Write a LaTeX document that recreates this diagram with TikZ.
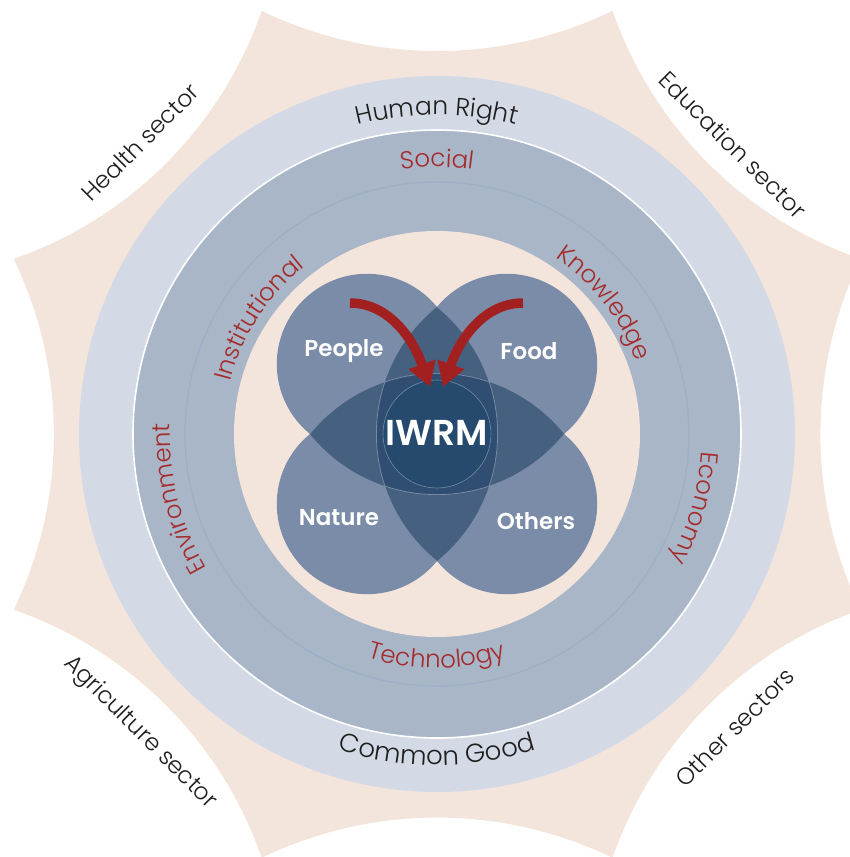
\documentclass[tikz,border=0pt]{standalone}
\usepackage{fontspec}
\setmainfont{Poppins Light}[BoldFont={Poppins SemiBold}]
\usetikzlibrary{decorations.text,arrows.meta}
\definecolor{peach}{HTML}{F3E5DC}
\definecolor{lightring}{HTML}{D3DAE6}
\definecolor{midring}{HTML}{A9B6C8}
\definecolor{faintline}{HTML}{9DAEC5}
\definecolor{leafone}{HTML}{7A8CA8}
\definecolor{leaftwo}{HTML}{46607F}
\definecolor{leaffour}{HTML}{2F4E72}
\definecolor{core}{HTML}{264A6E}
\definecolor{arrowred}{HTML}{A32020}
\definecolor{txtred}{HTML}{A52A2A}
\definecolor{txtblack}{HTML}{1E1E1E}
\newcommand\ringfont{\fontsize{25}{29}\selectfont}
\newcommand\redfont{\fontsize{24.5}{28}\selectfont}
\newcommand\bigringfont{\fontsize{26}{30}\selectfont}
\newcommand\sectfont{\fontsize{23.5}{27}\selectfont}
\tikzset{
  leafshape/.style={insert path={(0,127) arc[start angle=39.2,end angle=230.8,radius=90.27]
     arc[start angle=219.0,end angle=288.5,radius=163.5]
     arc[start angle=-18.5,end angle=51.0,radius=163.5] -- cycle}},
  hlens/.style={insert path={(-127,0) arc[start angle=219,end angle=321,radius=163.5]
     arc[start angle=39,end angle=141,radius=163.5] -- cycle}},
  sect/.style={font=\sectfont, text=txtblack, inner sep=0pt},
  leaflab/.style={font=\fontsize{23}{26}\selectfont\bfseries, text=white, inner sep=0pt},
  redarrow/.style={draw=arrowred, line width=9.5, -{Triangle[width=27pt,length=24pt]}},
  arctext/.style={decorate, decoration={text along path, text align=center, text={#1}}}
}
\begin{document}
\begin{tikzpicture}[x=1pt,y=1pt]
\useasboundingbox (-437,-423) rectangle (413,434);
% star background
\fill[peach] (112.5:458) \foreach \k in {0,...,7}{ arc[start angle={244.2-45*\k}, end angle={295.8-45*\k}, radius=403] } -- cycle;
% rings
\fill[lightring] (0,0) circle[radius=358];
\fill[midring] (0,0) circle[radius=304];
\draw[white, line width=1.6] (0,0) circle[radius=304];
\draw[faintline, line width=1.4] (0,0) circle[radius=252];
\fill[peach] (0,0) circle[radius=203];
% leaves
\foreach \r in {0,90,180,270}{ \fill[leafone, rotate=\r, leafshape]; }
% pairwise overlaps
\foreach \a/\b in {0/270, 0/90, 90/180, 180/270}{
  \begin{scope}
    \clip[rotate=\a, leafshape];
    \fill[leaftwo, rotate=\b, leafshape];
  \end{scope}
}
% centre region (all four)
\begin{scope}
  \clip[hlens];
  \fill[leaffour, rotate=90, hlens];
  \draw[white, opacity=.3, line width=.8, rotate=90, hlens];
\end{scope}
\begin{scope}
  \clip[rotate=90, hlens];
  \draw[white, opacity=.3, line width=.8, hlens];
\end{scope}
\fill[core] (0,0) circle[radius=54];
\draw[white, opacity=.35, line width=.6] (0,0) circle[radius=54];
% labels in leaves
\node[leaflab] (people) at (-93,83) {People};
\node[leaflab] (food) at (92,83) {Food};
\node[leaflab] (nature) at (-98,-84) {Nature};
\node[leaflab] (others) at (99,-87) {Others};
\node[leaflab, font=\fontsize{36}{40}\selectfont\bfseries] (iwrm) at (0,1) {IWRM};
% arrows
\coordinate (la) at (-87,131);
\coordinate (lt) at (-7,47);
\coordinate (ra) at (86,131);
\coordinate (rt) at (6,47);
\draw[redarrow] (la) .. controls (-50,131) and (-25,98) .. (lt);
\draw[redarrow] (ra) .. controls (49,131) and (24,98) .. (rt);
% ring texts
\path[arctext={|\ringfont\color{txtblack}|Human Right}] (140:319) arc[start angle=140, end angle=40, radius=319];
\path[arctext={|\bigringfont\color{txtblack}|Common Good}] (220:331) arc[start angle=220, end angle=320, radius=331];
\path[arctext={|\redfont\color{txtred}|Social}] (150:267) arc[start angle=150, end angle=30, radius=267];
\path[arctext={|\redfont\color{txtred}|Economy}] (44:265) arc[start angle=44, end angle=-76, radius=265];
\path[arctext={|\redfont\color{txtred}|Environment}] (254:267) arc[start angle=254, end angle=134, radius=267];
\path[arctext={|\redfont\color{txtred}|Knowledge}] (98:212) arc[start angle=98, end angle=-22, radius=212];
\path[arctext={|\redfont\color{txtred}|Institutional}] (207:213) arc[start angle=207, end angle=87, radius=213];
\path[arctext={|\redfont\color{txtred}|Technology}] (210:234) arc[start angle=210, end angle=330, radius=234];
% sector labels
\node[sect, rotate=45] (health) at (-297,292) {Health sector};
\node[sect, rotate=-45] (education) at (296,289) {Education sector};
\node[sect, rotate=-45] (agriculture) at (-297,-299) {Agriculture sector};
\node[sect, rotate=45] (othersec) at (298,-293) {Other sectors};
\end{tikzpicture}
\end{document}
